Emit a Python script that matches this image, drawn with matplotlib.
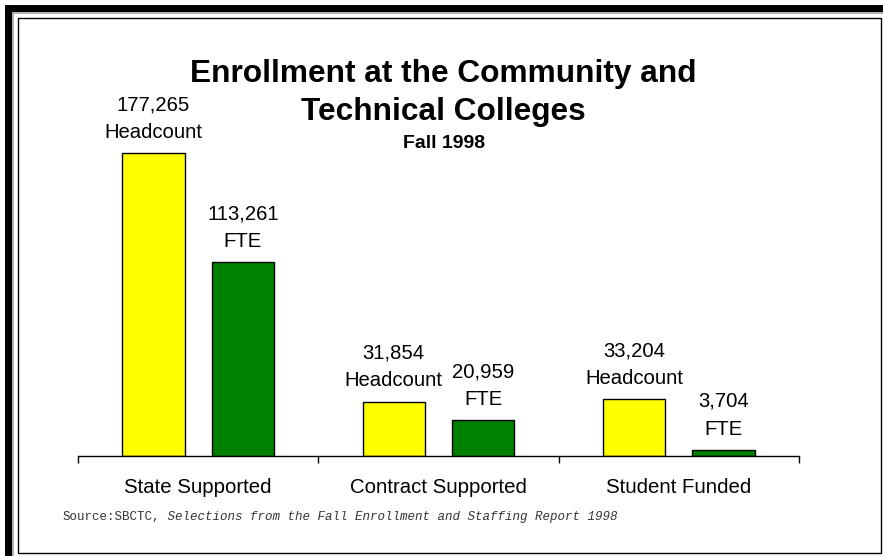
#   Enrollment at the Community and Technical Colleges, Fall 1998
#   grouped bars: headcount vs FTE for three funding sources

from matplotlib import pyplot as plt
from matplotlib.patches import Rectangle
import numpy as np

#   Data
categories = ['State Supported', 'Contract Supported', 'Student Funded']
headcount = [177265, 31854, 33204]
fte = [113261, 20959, 3704]
series_names = ['Headcount', 'FTE']

plt.rcParams['font.family'] = ['Liberation Sans', 'DejaVu Sans']

W, H = 883, 556
fig = plt.figure(figsize=(W / 100, H / 100), dpi=100)

#   Frame round the picture (pixel coords -> figure fraction)
def px_rect(x0, y0, x1, y1, **kw):
    fig.patches.append(Rectangle((x0 / W, 1 - y1 / H), (x1 - x0) / W, (y1 - y0) / H,
                                 transform=fig.transFigure, **kw))

px_rect(5, 5, W, 12, facecolor='black', edgecolor='none')
px_rect(5, 5, 12, H, facecolor='black', edgecolor='none')
px_rect(12, 12, W, 13.5, facecolor='#b0b0b0', edgecolor='none')
px_rect(12, 12, 13.5, H, facecolor='#b0b0b0', edgecolor='none')
px_rect(18, 18, 881, 553, facecolor='none', edgecolor='black', linewidth=1.0)

#   Axes: baseline at y=456 px, x from 78 to 799 px
ax_left, ax_right, ax_base, ax_top = 78, 799, 456, 40
ax = fig.add_axes([ax_left / W, 1 - ax_base / H, (ax_right - ax_left) / W, (ax_base - ax_top) / H])
ax.patch.set_alpha(0)

x = np.arange(len(categories))
bw = 0.26
off = 0.186
scale = 303 / 177265.0
ax.set_xlim(-0.5, len(categories) - 0.5)
ax.set_ylim(0, (ax_base - ax_top) / scale)

bars1 = ax.bar(x - off, headcount, bw, color='#FFFF00', edgecolor='black', linewidth=1.0)
bars2 = ax.bar(x + off, fte, bw, color='#008000', edgecolor='black', linewidth=1.0)

for bars, vals, name in [(bars1, headcount, series_names[0]), (bars2, fte, series_names[1])]:
    for b, v in zip(bars, vals):
        ax.annotate('{:,}\n{}'.format(v, name), (b.get_x() + b.get_width() / 2, v),
                    xytext=(0, 8), textcoords='offset points', ha='center', va='bottom',
                    fontsize=14.6, linespacing=1.58)

for s in ['top', 'right', 'left']:
    ax.spines[s].set_visible(False)
ax.spines['bottom'].set_linewidth(1.0)
ax.set_yticks([])
ax.set_xticks(np.arange(len(categories) + 1) - 0.5)
ax.set_xticklabels([])
ax.tick_params(axis='x', which='major', length=5, width=1.0, direction='out')
ax.set_xticks(x, minor=True)
ax.set_xticklabels(categories, minor=True, fontsize=14.7)
ax.tick_params(axis='x', which='minor', length=0, pad=16)

#   Titles
fig.text(443 / W, 1 - 93 / H, 'Enrollment at the Community and\nTechnical Colleges',
         ha='center', va='center', fontsize=22.8, fontweight='bold', linespacing=1.33)
fig.text(444 / W, 1 - 143 / H, 'Fall 1998', ha='center', va='center',
         fontsize=14, fontweight='bold')

#   Source note
t1 = fig.text(63 / W, 1 - 517 / H, 'Source:SBCTC,', ha='left', va='center',
              fontsize=9, family='Liberation Mono', color='#333333')
ax.annotate(' Selections from the Fall Enrollment and Staffing Report 1998',
            xy=(1, 0.5), xycoords=t1, ha='left', va='center', fontsize=9,
            family='Liberation Mono', style='italic', color='#333333',
            annotation_clip=False)

fig.savefig('out.png', dpi=100)
